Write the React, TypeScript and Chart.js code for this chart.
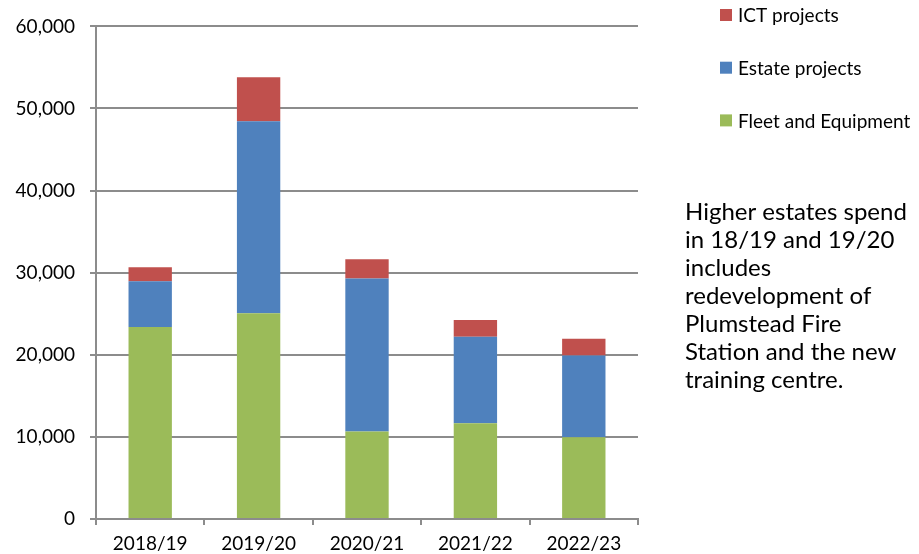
import { useEffect, useRef } from 'react';
import { Chart, registerables } from 'chart.js';

Chart.register(...registerables);

const categories = ['2018/19', '2019/20', '2020/21', '2021/22', '2022/23'];
const fleetValues = [23400, 25050, 10650, 11650, 9950];
const estateValues = [5550, 23400, 18650, 10550, 9950];
const ictValues = [1700, 5350, 2350, 2050, 2050];
const yTicks = [0, 10000, 20000, 30000, 40000, 50000, 60000];
const noteLines = [
  'Higher estates spend',
  'in 18/19 and 19/20',
  'includes',
  'redevelopment of',
  'Plumstead Fire',
  'Station and the new',
  'training centre.',
];

const FONT = 'Lato, "Noto Sans", sans-serif';
const GRID = '#8c8c8c';

const sidePlugin = {
  id: 'sideLegendNote',
  afterDraw(chart: any) {
    const ctx = chart.ctx as CanvasRenderingContext2D;
    ctx.save();
    const items = [...chart.data.datasets].reverse();
    items.forEach((ds: any, i: number) => {
      const cy = 15 + i * 52.7;
      ctx.fillStyle = ds.backgroundColor;
      ctx.fillRect(720, cy - 6, 12, 12);
      ctx.fillStyle = '#000';
      ctx.font = `19px ${FONT}`;
      ctx.textBaseline = 'middle';
      ctx.textAlign = 'left';
      ctx.fillText(ds.label, 738, cy + 1);
    });
    ctx.font = `24px ${FONT}`;
    ctx.textBaseline = 'alphabetic';
    noteLines.forEach((line, i) => {
      ctx.fillText(line, 685, 220 + i * 28);
    });
    ctx.restore();
  },
};

export default function App() {
  const ref = useRef<HTMLCanvasElement | null>(null);
  useEffect(() => {
    if (!ref.current) return;
    const chart = new Chart(ref.current, {
      type: 'bar',
      data: {
        labels: categories,
        datasets: [
          { label: 'Fleet and Equipment', data: fleetValues, backgroundColor: '#9BBB59' },
          { label: 'Estate projects', data: estateValues, backgroundColor: '#4F81BD' },
          { label: 'ICT projects', data: ictValues, backgroundColor: '#C0504D' },
        ],
      },
      options: {
        responsive: false,
        animation: false,
        layout: { padding: { top: 24, right: 281, left: 0, bottom: 0 } },
        datasets: { bar: { categoryPercentage: 1, barPercentage: 0.4 } },
        plugins: { legend: { display: false }, tooltip: { enabled: false } },
        scales: {
          x: {
            stacked: true,
            offset: true,
            grid: { offset: true, drawOnChartArea: false, tickLength: 6, color: GRID, lineWidth: 2 },
            border: { color: GRID, width: 2 },
            ticks: { color: '#000', font: { family: FONT, size: 19 }, padding: 7, maxRotation: 0 },
            afterFit: (s: any) => { s.height = 35; },
          },
          y: {
            stacked: true,
            min: 0,
            max: 60000,
            afterBuildTicks: (s: any) => { s.ticks = yTicks.map((v) => ({ value: v })); },
            grid: { color: GRID, lineWidth: 2, tickLength: 6 },
            border: { color: GRID, width: 2 },
            ticks: {
              color: '#000',
              font: { family: FONT, size: 19 },
              padding: 15,
              callback: (v: any) => Number(v).toLocaleString('en-US'),
            },
            afterFit: (s: any) => { s.width = 96; },
          },
        },
      },
      plugins: [sidePlugin],
    });
    return () => chart.destroy();
  }, []);
  return (
    <div style={{ position: 'absolute', left: 0, top: 0, width: 919, height: 554, background: '#fff' }}>
      <canvas ref={ref} width={919} height={554} />
    </div>
  );
}
